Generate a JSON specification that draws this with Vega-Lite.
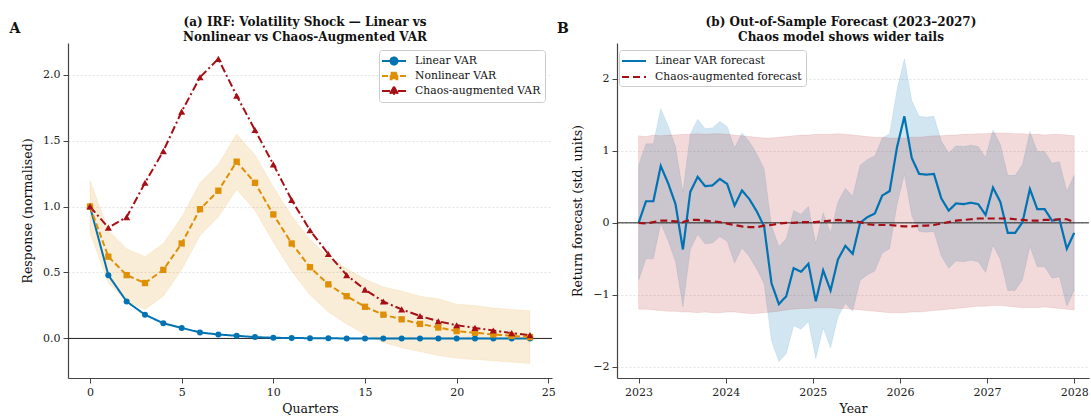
{
"$schema":"https://vega.github.io/schema/vega-lite/v6.json",
"background":"white",
"padding":{"left":9,"top":16,"right":0,"bottom":0},
"spacing":1,
"resolve":{"scale":{"color":"independent","strokeDash":"independent","x":"independent","y":"independent"},"legend":{"color":"independent","strokeDash":"independent"}},
"config":{
 "font":"DejaVu Serif",
 "view":{"stroke":null},
 "axis":{"labelFont":"DejaVu Serif","labelFontSize":11,"labelColor":"#222222","titleFont":"DejaVu Serif","titleFontSize":12.5,"titleFontWeight":"normal","titleColor":"#111111","domainColor":"#444444","domainWidth":1.2,"tickColor":"#444444","tickSize":5,"tickWidth":1,"labelPadding":3,"titlePadding":8,"gridColor":"#dedede","gridDash":[2,2],"gridWidth":0.8,"labelFlush":false},
 "axisX":{"grid":false,"titlePadding":5},
 "legend":{"labelFont":"DejaVu Serif","labelFontSize":10.8,"labelColor":"#111111","padding":4,"strokeColor":"#cccccc","fillColor":"#ffffff","cornerRadius":3,"rowPadding":1,"symbolSize":144,"symbolStrokeWidth":2,"symbolOffset":4,"labelOffset":14},
 "title":{"font":"DejaVu Serif","fontSize":12,"fontWeight":"bold","color":"#111111"}
},
"datasets":{
 "irf":[
  {"q":0,"series":"Linear VAR","value":1.0},{"q":1,"series":"Linear VAR","value":0.48},{"q":2,"series":"Linear VAR","value":0.28},{"q":3,"series":"Linear VAR","value":0.18},{"q":4,"series":"Linear VAR","value":0.115},{"q":5,"series":"Linear VAR","value":0.08},{"q":6,"series":"Linear VAR","value":0.045},{"q":7,"series":"Linear VAR","value":0.03},{"q":8,"series":"Linear VAR","value":0.02},{"q":9,"series":"Linear VAR","value":0.01},{"q":10,"series":"Linear VAR","value":0.005},{"q":11,"series":"Linear VAR","value":0.003},{"q":12,"series":"Linear VAR","value":0.002},{"q":13,"series":"Linear VAR","value":0.001},{"q":14,"series":"Linear VAR","value":0.0},{"q":15,"series":"Linear VAR","value":0.0},{"q":16,"series":"Linear VAR","value":0.0},{"q":17,"series":"Linear VAR","value":0.0},{"q":18,"series":"Linear VAR","value":0.0},{"q":19,"series":"Linear VAR","value":0.0},{"q":20,"series":"Linear VAR","value":0.0},{"q":21,"series":"Linear VAR","value":0.0},{"q":22,"series":"Linear VAR","value":0.0},{"q":23,"series":"Linear VAR","value":0.0},{"q":24,"series":"Linear VAR","value":0.0},
  {"q":0,"series":"Nonlinear VAR","value":1.0},{"q":1,"series":"Nonlinear VAR","value":0.62},{"q":2,"series":"Nonlinear VAR","value":0.48},{"q":3,"series":"Nonlinear VAR","value":0.42},{"q":4,"series":"Nonlinear VAR","value":0.52},{"q":5,"series":"Nonlinear VAR","value":0.72},{"q":6,"series":"Nonlinear VAR","value":0.98},{"q":7,"series":"Nonlinear VAR","value":1.12},{"q":8,"series":"Nonlinear VAR","value":1.34},{"q":9,"series":"Nonlinear VAR","value":1.18},{"q":10,"series":"Nonlinear VAR","value":0.94},{"q":11,"series":"Nonlinear VAR","value":0.72},{"q":12,"series":"Nonlinear VAR","value":0.54},{"q":13,"series":"Nonlinear VAR","value":0.41},{"q":14,"series":"Nonlinear VAR","value":0.32},{"q":15,"series":"Nonlinear VAR","value":0.24},{"q":16,"series":"Nonlinear VAR","value":0.18},{"q":17,"series":"Nonlinear VAR","value":0.145},{"q":18,"series":"Nonlinear VAR","value":0.11},{"q":19,"series":"Nonlinear VAR","value":0.083},{"q":20,"series":"Nonlinear VAR","value":0.056},{"q":21,"series":"Nonlinear VAR","value":0.043},{"q":22,"series":"Nonlinear VAR","value":0.03},{"q":23,"series":"Nonlinear VAR","value":0.02},{"q":24,"series":"Nonlinear VAR","value":0.01},
  {"q":0,"series":"Chaos-augmented VAR","value":1.0},{"q":1,"series":"Chaos-augmented VAR","value":0.84},{"q":2,"series":"Chaos-augmented VAR","value":0.92},{"q":3,"series":"Chaos-augmented VAR","value":1.18},{"q":4,"series":"Chaos-augmented VAR","value":1.42},{"q":5,"series":"Chaos-augmented VAR","value":1.72},{"q":6,"series":"Chaos-augmented VAR","value":1.98},{"q":7,"series":"Chaos-augmented VAR","value":2.12},{"q":8,"series":"Chaos-augmented VAR","value":1.84},{"q":9,"series":"Chaos-augmented VAR","value":1.58},{"q":10,"series":"Chaos-augmented VAR","value":1.32},{"q":11,"series":"Chaos-augmented VAR","value":1.05},{"q":12,"series":"Chaos-augmented VAR","value":0.82},{"q":13,"series":"Chaos-augmented VAR","value":0.64},{"q":14,"series":"Chaos-augmented VAR","value":0.48},{"q":15,"series":"Chaos-augmented VAR","value":0.37},{"q":16,"series":"Chaos-augmented VAR","value":0.28},{"q":17,"series":"Chaos-augmented VAR","value":0.22},{"q":18,"series":"Chaos-augmented VAR","value":0.17},{"q":19,"series":"Chaos-augmented VAR","value":0.13},{"q":20,"series":"Chaos-augmented VAR","value":0.10},{"q":21,"series":"Chaos-augmented VAR","value":0.08},{"q":22,"series":"Chaos-augmented VAR","value":0.06},{"q":23,"series":"Chaos-augmented VAR","value":0.04},{"q":24,"series":"Chaos-augmented VAR","value":0.025}
 ],
 "irfband":[
  {"q":0,"lo":0.80,"hi":1.20},{"q":1,"lo":0.42,"hi":0.82},{"q":2,"lo":0.28,"hi":0.68},{"q":3,"lo":0.22,"hi":0.62},{"q":4,"lo":0.32,"hi":0.72},{"q":5,"lo":0.52,"hi":0.92},{"q":6,"lo":0.78,"hi":1.18},{"q":7,"lo":0.92,"hi":1.32},{"q":8,"lo":1.13,"hi":1.55},{"q":9,"lo":0.97,"hi":1.39},{"q":10,"lo":0.73,"hi":1.15},{"q":11,"lo":0.51,"hi":0.93},{"q":12,"lo":0.33,"hi":0.75},{"q":13,"lo":0.20,"hi":0.62},{"q":14,"lo":0.11,"hi":0.53},{"q":15,"lo":0.03,"hi":0.45},{"q":16,"lo":-0.03,"hi":0.39},{"q":17,"lo":-0.07,"hi":0.36},{"q":18,"lo":-0.10,"hi":0.32},{"q":19,"lo":-0.13,"hi":0.30},{"q":20,"lo":-0.15,"hi":0.26},{"q":21,"lo":-0.16,"hi":0.25},{"q":22,"lo":-0.17,"hi":0.23},{"q":23,"lo":-0.18,"hi":0.22},{"q":24,"lo":-0.19,"hi":0.21}
 ],
 "fc":[
  {"yr":2023.0000,"lin":0.00,"lin_lo":-0.80,"lin_hi":0.80,"chaos":0.00,"ch_lo":-1.20,"ch_hi":1.21},
  {"yr":2023.0847,"lin":0.30,"lin_lo":-0.50,"lin_hi":1.10,"chaos":-0.01,"ch_lo":-1.20,"ch_hi":1.20},
  {"yr":2023.1695,"lin":0.30,"lin_lo":-0.50,"lin_hi":1.10,"chaos":0.01,"ch_lo":-1.21,"ch_hi":1.22},
  {"yr":2023.2542,"lin":0.79,"lin_lo":-0.01,"lin_hi":1.59,"chaos":0.03,"ch_lo":-1.22,"ch_hi":1.21},
  {"yr":2023.3390,"lin":0.55,"lin_lo":-0.25,"lin_hi":1.35,"chaos":0.03,"ch_lo":-1.23,"ch_hi":1.22},
  {"yr":2023.4237,"lin":0.26,"lin_lo":-0.54,"lin_hi":1.06,"chaos":0.02,"ch_lo":-1.23,"ch_hi":1.22},
  {"yr":2023.5085,"lin":-0.37,"lin_lo":-1.17,"lin_hi":0.43,"chaos":0.01,"ch_lo":-1.24,"ch_hi":1.23},
  {"yr":2023.5932,"lin":0.43,"lin_lo":-0.37,"lin_hi":1.23,"chaos":0.04,"ch_lo":-1.24,"ch_hi":1.23},
  {"yr":2023.6780,"lin":0.64,"lin_lo":-0.16,"lin_hi":1.44,"chaos":0.04,"ch_lo":-1.25,"ch_hi":1.24},
  {"yr":2023.7627,"lin":0.51,"lin_lo":-0.29,"lin_hi":1.31,"chaos":0.03,"ch_lo":-1.24,"ch_hi":1.23},
  {"yr":2023.8475,"lin":0.52,"lin_lo":-0.28,"lin_hi":1.32,"chaos":0.02,"ch_lo":-1.25,"ch_hi":1.24},
  {"yr":2023.9322,"lin":0.61,"lin_lo":-0.19,"lin_hi":1.41,"chaos":0.01,"ch_lo":-1.25,"ch_hi":1.24},
  {"yr":2024.0169,"lin":0.54,"lin_lo":-0.26,"lin_hi":1.34,"chaos":-0.01,"ch_lo":-1.24,"ch_hi":1.23},
  {"yr":2024.1017,"lin":0.24,"lin_lo":-0.56,"lin_hi":1.04,"chaos":-0.03,"ch_lo":-1.24,"ch_hi":1.22},
  {"yr":2024.1864,"lin":0.45,"lin_lo":-0.35,"lin_hi":1.25,"chaos":-0.05,"ch_lo":-1.25,"ch_hi":1.21},
  {"yr":2024.2712,"lin":0.33,"lin_lo":-0.47,"lin_hi":1.13,"chaos":-0.06,"ch_lo":-1.26,"ch_hi":1.20},
  {"yr":2024.3559,"lin":0.16,"lin_lo":-0.64,"lin_hi":0.96,"chaos":-0.06,"ch_lo":-1.26,"ch_hi":1.19},
  {"yr":2024.4407,"lin":-0.05,"lin_lo":-0.85,"lin_hi":0.75,"chaos":-0.04,"ch_lo":-1.25,"ch_hi":1.18},
  {"yr":2024.5254,"lin":-0.84,"lin_lo":-1.64,"lin_hi":-0.04,"chaos":-0.03,"ch_lo":-1.24,"ch_hi":1.18},
  {"yr":2024.6102,"lin":-1.13,"lin_lo":-1.93,"lin_hi":-0.33,"chaos":-0.01,"ch_lo":-1.23,"ch_hi":1.19},
  {"yr":2024.6949,"lin":-1.02,"lin_lo":-1.82,"lin_hi":-0.22,"chaos":0.00,"ch_lo":-1.21,"ch_hi":1.20},
  {"yr":2024.7797,"lin":-0.63,"lin_lo":-1.43,"lin_hi":0.17,"chaos":0.00,"ch_lo":-1.20,"ch_hi":1.21},
  {"yr":2024.8644,"lin":-0.68,"lin_lo":-1.48,"lin_hi":0.12,"chaos":0.01,"ch_lo":-1.19,"ch_hi":1.22},
  {"yr":2024.9492,"lin":-0.57,"lin_lo":-1.37,"lin_hi":0.23,"chaos":0.01,"ch_lo":-1.19,"ch_hi":1.22},
  {"yr":2025.0339,"lin":-1.09,"lin_lo":-1.89,"lin_hi":-0.29,"chaos":0.01,"ch_lo":-1.18,"ch_hi":1.23},
  {"yr":2025.1186,"lin":-0.66,"lin_lo":-1.46,"lin_hi":0.14,"chaos":0.02,"ch_lo":-1.18,"ch_hi":1.23},
  {"yr":2025.2034,"lin":-0.94,"lin_lo":-1.74,"lin_hi":-0.14,"chaos":0.03,"ch_lo":-1.18,"ch_hi":1.23},
  {"yr":2025.2881,"lin":-0.51,"lin_lo":-1.31,"lin_hi":0.29,"chaos":0.04,"ch_lo":-1.19,"ch_hi":1.24},
  {"yr":2025.3729,"lin":-0.32,"lin_lo":-1.12,"lin_hi":0.48,"chaos":0.03,"ch_lo":-1.19,"ch_hi":1.23},
  {"yr":2025.4576,"lin":-0.43,"lin_lo":-1.23,"lin_hi":0.37,"chaos":0.02,"ch_lo":-1.20,"ch_hi":1.22},
  {"yr":2025.5424,"lin":0.00,"lin_lo":-0.80,"lin_hi":0.80,"chaos":0.01,"ch_lo":-1.21,"ch_hi":1.21},
  {"yr":2025.6271,"lin":0.08,"lin_lo":-0.72,"lin_hi":0.88,"chaos":-0.02,"ch_lo":-1.22,"ch_hi":1.20},
  {"yr":2025.7119,"lin":0.13,"lin_lo":-0.67,"lin_hi":0.93,"chaos":-0.03,"ch_lo":-1.23,"ch_hi":1.19},
  {"yr":2025.7966,"lin":0.38,"lin_lo":-0.42,"lin_hi":1.18,"chaos":-0.03,"ch_lo":-1.24,"ch_hi":1.19},
  {"yr":2025.8814,"lin":0.44,"lin_lo":-0.36,"lin_hi":1.24,"chaos":-0.03,"ch_lo":-1.25,"ch_hi":1.18},
  {"yr":2025.9661,"lin":1.05,"lin_lo":0.25,"lin_hi":1.85,"chaos":-0.04,"ch_lo":-1.25,"ch_hi":1.18},
  {"yr":2026.0508,"lin":1.48,"lin_lo":0.68,"lin_hi":2.28,"chaos":-0.05,"ch_lo":-1.25,"ch_hi":1.18},
  {"yr":2026.1356,"lin":0.90,"lin_lo":0.10,"lin_hi":1.70,"chaos":-0.05,"ch_lo":-1.24,"ch_hi":1.19},
  {"yr":2026.2203,"lin":0.68,"lin_lo":-0.12,"lin_hi":1.48,"chaos":-0.04,"ch_lo":-1.24,"ch_hi":1.19},
  {"yr":2026.3051,"lin":0.67,"lin_lo":-0.13,"lin_hi":1.47,"chaos":-0.04,"ch_lo":-1.23,"ch_hi":1.20},
  {"yr":2026.3898,"lin":0.68,"lin_lo":-0.12,"lin_hi":1.48,"chaos":-0.03,"ch_lo":-1.22,"ch_hi":1.21},
  {"yr":2026.4746,"lin":0.34,"lin_lo":-0.46,"lin_hi":1.14,"chaos":-0.01,"ch_lo":-1.21,"ch_hi":1.21},
  {"yr":2026.5593,"lin":0.17,"lin_lo":-0.63,"lin_hi":0.97,"chaos":0.01,"ch_lo":-1.20,"ch_hi":1.22},
  {"yr":2026.6441,"lin":0.27,"lin_lo":-0.53,"lin_hi":1.07,"chaos":0.03,"ch_lo":-1.19,"ch_hi":1.22},
  {"yr":2026.7288,"lin":0.26,"lin_lo":-0.54,"lin_hi":1.06,"chaos":0.04,"ch_lo":-1.18,"ch_hi":1.23},
  {"yr":2026.8136,"lin":0.28,"lin_lo":-0.52,"lin_hi":1.08,"chaos":0.05,"ch_lo":-1.17,"ch_hi":1.23},
  {"yr":2026.8983,"lin":0.26,"lin_lo":-0.54,"lin_hi":1.06,"chaos":0.06,"ch_lo":-1.16,"ch_hi":1.24},
  {"yr":2026.9831,"lin":0.11,"lin_lo":-0.69,"lin_hi":0.91,"chaos":0.06,"ch_lo":-1.16,"ch_hi":1.24},
  {"yr":2027.0678,"lin":0.49,"lin_lo":-0.31,"lin_hi":1.29,"chaos":0.06,"ch_lo":-1.15,"ch_hi":1.25},
  {"yr":2027.1525,"lin":0.29,"lin_lo":-0.51,"lin_hi":1.09,"chaos":0.06,"ch_lo":-1.15,"ch_hi":1.25},
  {"yr":2027.2373,"lin":-0.14,"lin_lo":-0.94,"lin_hi":0.66,"chaos":0.06,"ch_lo":-1.16,"ch_hi":1.25},
  {"yr":2027.3220,"lin":-0.14,"lin_lo":-0.94,"lin_hi":0.66,"chaos":0.05,"ch_lo":-1.17,"ch_hi":1.24},
  {"yr":2027.4068,"lin":0.01,"lin_lo":-0.79,"lin_hi":0.81,"chaos":0.04,"ch_lo":-1.18,"ch_hi":1.24},
  {"yr":2027.4915,"lin":0.47,"lin_lo":-0.33,"lin_hi":1.27,"chaos":0.03,"ch_lo":-1.18,"ch_hi":1.23},
  {"yr":2027.5763,"lin":0.19,"lin_lo":-0.61,"lin_hi":0.99,"chaos":0.03,"ch_lo":-1.18,"ch_hi":1.23},
  {"yr":2027.6610,"lin":0.19,"lin_lo":-0.61,"lin_hi":0.99,"chaos":0.04,"ch_lo":-1.17,"ch_hi":1.22},
  {"yr":2027.7458,"lin":0.03,"lin_lo":-0.77,"lin_hi":0.83,"chaos":0.04,"ch_lo":-1.18,"ch_hi":1.23},
  {"yr":2027.8305,"lin":0.05,"lin_lo":-0.75,"lin_hi":0.85,"chaos":0.05,"ch_lo":-1.19,"ch_hi":1.23},
  {"yr":2027.9153,"lin":-0.36,"lin_lo":-1.16,"lin_hi":0.44,"chaos":0.05,"ch_lo":-1.20,"ch_hi":1.22},
  {"yr":2028.0000,"lin":-0.14,"lin_lo":-0.94,"lin_hi":0.66,"chaos":0.01,"ch_lo":-1.21,"ch_hi":1.21}
 ]
},
"hconcat":[
 {
  "title":{"text":"A","anchor":"start","frame":"bounds","fontSize":14,"fontWeight":"bold","offset":-20,"dx":-12},
  "resolve":{"scale":{"color":"independent","strokeDash":"independent"},"legend":{"color":"independent","strokeDash":"independent"}},
  "vconcat":[{
   "width":484,"height":335,
   "title":{"text":["(a) IRF: Volatility Shock — Linear vs","Nonlinear vs Chaos-Augmented VAR"],"anchor":"middle","dx":-5,"offset":-1,"lineHeight":15},
   "layer":[
    {"data":{"name":"irfband"},"mark":{"type":"area","fill":"#DE8F05","stroke":"#DE8F05","strokeWidth":0.8,"fillOpacity":0.16,"strokeOpacity":0.12},
     "encoding":{
      "x":{"field":"q","type":"quantitative","scale":{"domain":[-1.2,25.2],"nice":false,"zero":false},"axis":{"values":[0,5,10,15,20,25],"format":"d"},"title":"Quarters"},
      "y":{"field":"lo","type":"quantitative","scale":{"domain":[-0.30,2.24],"nice":false,"zero":false},"axis":{"values":[0,0.5,1,1.5,2],"format":".1f","grid":true},"title":"Response (normalised)"},
      "y2":{"field":"hi"}}},
    {"data":{"values":[{}]},"mark":{"type":"rule","color":"#222222","strokeWidth":1},
     "encoding":{"y":{"datum":0,"type":"quantitative","title":"Response (normalised)"}}},
    {"data":{"name":"irf"},"mark":{"type":"line","strokeWidth":2},
     "encoding":{
      "x":{"field":"q","type":"quantitative","title":"Quarters"},
      "y":{"field":"value","type":"quantitative","title":"Response (normalised)"},
      "color":{"field":"series","type":"nominal","scale":{"domain":["Linear VAR","Nonlinear VAR","Chaos-augmented VAR"],"range":["#0173B2","#DE8F05","#A50F15"]},
        "legend":{"title":null,"orient":"top-right","offset":7,"rowPadding":-2,"symbolType":"M-2,0L2,0",
          "encode":{"symbols":{"update":{
            "shape":{"signal":"datum.value === 'Linear VAR' ? 'M-2,0L2,0M0.6,0L0.52,0.3L0.3,0.52L0,0.6L-0.3,0.52L-0.52,0.3L-0.6,0L-0.52,-0.3L-0.3,-0.52L0,-0.6L0.3,-0.52L0.52,-0.3Z' : datum.value === 'Nonlinear VAR' ? 'M-2,0L2,0M-0.55,-0.55L0.55,-0.55L0.55,0.55L-0.55,0.55Z' : 'M-2,0L2,0M0,-0.72L0.66,0.45L-0.66,0.45Z'"},
            "fill":{"signal":"datum.value === 'Linear VAR' ? '#0173B2' : datum.value === 'Nonlinear VAR' ? '#DE8F05' : '#A50F15'"},
            "stroke":{"signal":"datum.value === 'Linear VAR' ? '#0173B2' : datum.value === 'Nonlinear VAR' ? '#DE8F05' : '#A50F15'"},
            "size":{"value":144},
            "strokeWidth":{"value":2}}}}}},
      "strokeDash":{"field":"series","type":"nominal","scale":{"domain":["Linear VAR","Nonlinear VAR","Chaos-augmented VAR"],"range":[[1,0],[6,3],[8,3,2,3]]},
        "legend":{"title":null,"orient":"top-right","offset":7,"rowPadding":-2,"symbolType":"M-2,0L2,0"}}}},
    {"data":{"name":"irf"},"transform":[{"filter":"datum.series === 'Linear VAR'"}],"mark":{"type":"point","shape":"circle","filled":true,"opacity":1,"size":36,"color":"#0173B2"},
     "encoding":{"x":{"field":"q","type":"quantitative","title":"Quarters"},"y":{"field":"value","type":"quantitative","title":"Response (normalised)"}}},
    {"data":{"name":"irf"},"transform":[{"filter":"datum.series === 'Nonlinear VAR'"}],"mark":{"type":"point","shape":"square","filled":true,"opacity":1,"size":40,"color":"#DE8F05"},
     "encoding":{"x":{"field":"q","type":"quantitative","title":"Quarters"},"y":{"field":"value","type":"quantitative","title":"Response (normalised)"}}},
    {"data":{"name":"irf"},"transform":[{"filter":"datum.series === 'Chaos-augmented VAR'"}],"mark":{"type":"point","shape":"triangle-up","filled":true,"opacity":1,"size":50,"color":"#A50F15"},
     "encoding":{"x":{"field":"q","type":"quantitative","title":"Quarters"},"y":{"field":"value","type":"quantitative","title":"Response (normalised)"}}}
   ]
  }]
 },
 {
  "title":{"text":"B","anchor":"start","frame":"bounds","fontSize":14,"fontWeight":"bold","offset":-20,"dx":-14.7},
  "resolve":{"scale":{"color":"independent","strokeDash":"independent"},"legend":{"color":"independent","strokeDash":"independent"}},
  "vconcat":[{
   "width":472,"height":335,
   "title":{"text":["(b) Out-of-Sample Forecast (2023–2027)","Chaos model shows wider tails"],"anchor":"middle","dx":-12,"offset":-1,"lineHeight":15},
   "data":{"name":"fc"},
   "layer":[
    {"mark":{"type":"area","fill":"#0173B2","stroke":"#0173B2","strokeWidth":0.8,"fillOpacity":0.18,"strokeOpacity":0.12},
     "encoding":{
      "x":{"field":"yr","type":"quantitative","scale":{"domain":[2022.752,2028.17],"nice":false,"zero":false},"axis":{"values":[2023,2024,2025,2026,2027,2028],"format":"d"},"title":"Year"},
      "y":{"field":"lin_lo","type":"quantitative","scale":{"domain":[-2.157,2.5],"nice":false,"zero":false},"axis":{"values":[-2,-1,0,1,2],"format":"d","grid":true},"title":"Return forecast (std. units)"},
      "y2":{"field":"lin_hi"}}},
    {"mark":{"type":"area","fill":"#B22222","stroke":"#B22222","strokeWidth":0.8,"fillOpacity":0.17,"strokeOpacity":0.12},
     "encoding":{
      "x":{"field":"yr","type":"quantitative","title":"Year"},
      "y":{"field":"ch_lo","type":"quantitative","title":"Return forecast (std. units)"},
      "y2":{"field":"ch_hi"}}},
    {"data":{"values":[{}]},"mark":{"type":"rule","color":"#222222","strokeWidth":1},
     "encoding":{"y":{"datum":0,"type":"quantitative","title":"Return forecast (std. units)"}}},
    {"mark":{"type":"line","strokeWidth":2.2},
     "encoding":{
      "x":{"field":"yr","type":"quantitative","title":"Year"},
      "y":{"field":"lin","type":"quantitative","title":"Return forecast (std. units)"},
      "color":{"datum":"Linear VAR forecast","type":"nominal","scale":{"domain":["Linear VAR forecast","Chaos-augmented forecast"],"range":["#0173B2","#A50F15"]},"legend":{"title":null,"orient":"none","legendX":2,"legendY":7,"rowPadding":4,"symbolType":"M-2,0L2,0"}},
      "strokeDash":{"datum":"Linear VAR forecast","type":"nominal","scale":{"domain":["Linear VAR forecast","Chaos-augmented forecast"],"range":[[1,0],[7,4]]},"legend":{"title":null,"orient":"none","legendX":2,"legendY":7,"rowPadding":4,"symbolType":"M-2,0L2,0"}}}},
    {"mark":{"type":"line","strokeWidth":2.2},
     "encoding":{
      "x":{"field":"yr","type":"quantitative","title":"Year"},
      "y":{"field":"chaos","type":"quantitative","title":"Return forecast (std. units)"},
      "color":{"datum":"Chaos-augmented forecast","type":"nominal"},
      "strokeDash":{"datum":"Chaos-augmented forecast","type":"nominal"}}}
   ]
  }]
 }
]
}
